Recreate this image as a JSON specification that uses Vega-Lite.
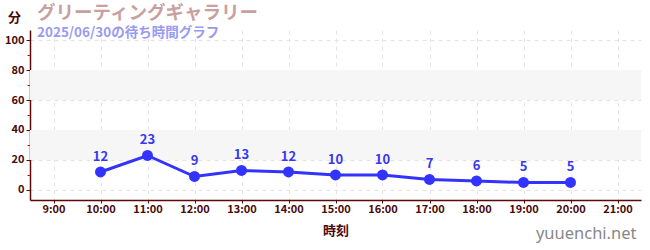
{
  "$schema": "https://vega.github.io/schema/vega-lite/v6.json",
  "width": 611,
  "height": 170,
  "autosize": {"type": "none"},
  "padding": {"left": 30, "top": 30, "right": 9, "bottom": 50},
  "background": "white",
  "config": {
    "font": "Noto Sans CJK JP",
    "view": {"stroke": null}
  },
  "title": {
    "text": "グリーティングギャラリー",
    "subtitle": "2025/06/30の待ち時間グラフ",
    "anchor": "start",
    "frame": "group",
    "dx": 7,
    "offset": -28,
    "fontSize": 18.5,
    "fontWeight": "bold",
    "color": "#c9a0a0",
    "subtitleFontSize": 13.5,
    "subtitleFontWeight": "bold",
    "subtitleColor": "#9a9af0",
    "subtitlePadding": 3,
    "subtitleFont": "Noto Sans CJK JP"
  },
  "datasets": {
    "waits": [
      {"hour": 10, "wait": 12},
      {"hour": 11, "wait": 23},
      {"hour": 12, "wait": 9},
      {"hour": 13, "wait": 13},
      {"hour": 14, "wait": 12},
      {"hour": 15, "wait": 10},
      {"hour": 16, "wait": 10},
      {"hour": 17, "wait": 7},
      {"hour": 18, "wait": 6},
      {"hour": 19, "wait": 5},
      {"hour": 20, "wait": 5}
    ],
    "bands": [
      {"lo": 20, "hi": 40},
      {"lo": 60, "hi": 80}
    ]
  },
  "layer": [
    {
      "data": {"name": "bands"},
      "mark": {"type": "rect", "color": "#f6f6f6"},
      "encoding": {
        "x": {"datum": 8.5, "type": "quantitative", "scale": {"domain": [8.5, 21.5], "nice": false, "zero": false},
          "axis": {"values": [9,10,11,12,13,14,15,16,17,18,19,20,21], "labelExpr": "datum.value + ':00'",
            "title": "時刻", "titleColor": "#4a0a0a", "titleFontSize": 13, "titleFontWeight": "bold", "titlePadding": 10,
            "labelColor": "#4a0a0a", "labelFontSize": 11, "labelFontWeight": "bold", "labelPadding": 0,
            "domainColor": "#5a0a0a", "domainWidth": 1.5, "tickColor": "#5a0a0a", "tickSize": 3,
            "grid": true, "gridColor": "#e4e4e4", "gridDash": [4, 4]}},
        "x2": {"datum": 21.5},
        "y": {"field": "lo", "type": "quantitative", "scale": {"domain": [-6.67, 106.67], "nice": false, "zero": false},
          "axis": {"orient": "right", "labels": false, "ticks": false, "domain": false, "grid": false,
            "title": "yuuenchi.net", "titleAngle": 0, "titleAlign": "right", "titleBaseline": "middle",
            "titleX": -5, "titleY": 203, "titleColor": "#888888", "titleFontSize": 16.5, "titleFontWeight": "normal", "titleFont": "Noto Sans"}},
        "y2": {"field": "hi"}
      }
    },
    {
      "data": {"name": "waits"},
      "mark": {"type": "line", "color": "#3333ff", "strokeWidth": 3},
      "encoding": {
        "x": {"field": "hour", "type": "quantitative"},
        "y": {"field": "wait", "type": "quantitative",
          "axis": {"values": [0,20,40,60,80,100], "title": "分", "titleAngle": 0, "titleX": -16, "titleY": -13,
            "titleAlign": "center", "titleBaseline": "middle", "titleColor": "#4a0a0a", "titleFontSize": 13, "titleFontWeight": "bold",
            "labelColor": "#4a0a0a", "labelFontSize": 11, "labelFontWeight": "bold", "labelPadding": 2,
            "domainColor": "#5a0a0a", "domainWidth": 1.5, "tickColor": "#5a0a0a", "tickSize": 4,
            "grid": true, "gridColor": "#e4e4e4", "gridDash": [4, 4]}}
      }
    },
    {
      "data": {"name": "waits"},
      "mark": {"type": "point", "filled": true, "color": "#3333ff", "size": 120, "opacity": 1},
      "encoding": {
        "x": {"field": "hour", "type": "quantitative"},
        "y": {"field": "wait", "type": "quantitative",
          "axis": {"orient": "left", "values": [10,30,50,70,90], "labels": false, "domain": false, "grid": false,
            "title": null, "tickColor": "#dd0000", "tickSize": 3, "offset": 0}}
      }
    },
    {
      "data": {"name": "waits"},
      "mark": {"type": "text", "color": "#3838f0", "fontSize": 13, "fontWeight": "bold", "dy": -15, "baseline": "middle"},
      "encoding": {
        "x": {"field": "hour", "type": "quantitative"},
        "y": {"field": "wait", "type": "quantitative", "axis": null},
        "text": {"field": "wait", "type": "quantitative"}
      }
    }
  ],
  "resolve": {"axis": {"y": "independent"}}
}
